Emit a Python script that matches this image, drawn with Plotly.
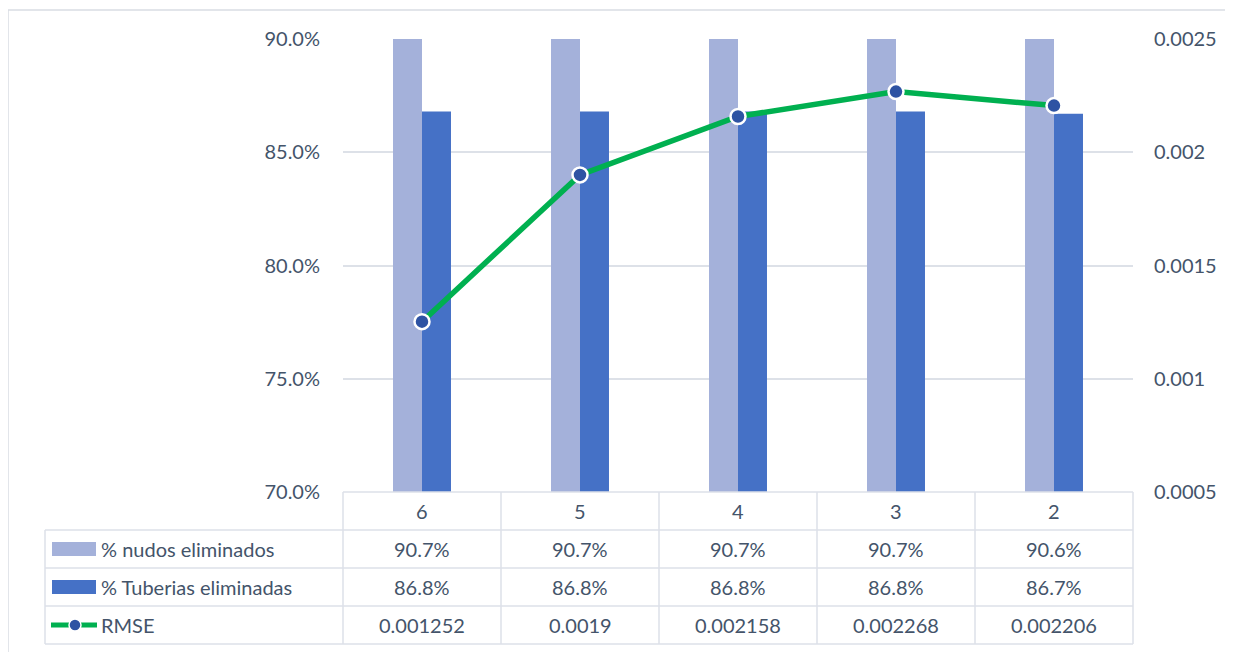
import plotly.graph_objects as go

categories = ["6", "5", "4", "3", "2"]
nudos = [0.907, 0.907, 0.907, 0.907, 0.906]
tuberias = [0.868, 0.868, 0.868, 0.868, 0.867]
rmse = [0.001252, 0.0019, 0.002158, 0.002268, 0.002206]
left_ticks = [0.70, 0.75, 0.80, 0.85, 0.90]
right_ticks = [0.0005, 0.001, 0.0015, 0.002, 0.0025]
right_ticktext = ["0.0005", "0.001", "0.0015", "0.002", "0.0025"]
series_names = ["% nudos eliminados", "% Tuberias eliminadas", "RMSE"]

# the page body adds an 8px offset; work in reference pixels and subtract it
OFF = 8
W, H = 1233 - OFF, 652 - OFF
L, T, PW, PH = 343 - OFF, 39 - OFF, 790, 453
R = W - L - PW
B = H - T - PH

TEXT = "#44546A"
GRID = "#DDE1E8"
FONT = "Lato"
FS = 20
C_LIGHT = "#A4B1DA"
C_DARK = "#4571C6"
GREEN = "#00B050"
MARK = "#2E53A3"


def px_x(p):
    # p in reference-image pixels
    return (p - OFF - L) / PW


def px_y(p):
    return (T + PH - (p - OFF)) / PH


fig = go.Figure()
fig.add_trace(go.Bar(x=categories, y=nudos, name=series_names[0],
                     marker=dict(color=C_LIGHT, line=dict(width=0))))
fig.add_trace(go.Bar(x=categories, y=tuberias, name=series_names[1],
                     marker=dict(color=C_DARK, line=dict(width=0))))
fig.add_trace(go.Scatter(x=categories, y=rmse, name=series_names[2], yaxis="y2",
                         mode="lines+markers",
                         line=dict(color=GREEN, width=5.5),
                         marker=dict(color=MARK, size=15,
                                     line=dict(color="white", width=2.5))))

shapes = []
annotations = []

# outer chart border (top and left edges visible in the frame)
BORDER = "#D9DDE3"
shapes.append(dict(type="line", xref="paper", yref="paper",
                   x0=px_x(8), x1=px_x(1233), y0=px_y(10), y1=px_y(10),
                   line=dict(color=BORDER, width=1.5), layer="below"))
shapes.append(dict(type="line", xref="paper", yref="paper",
                   x0=px_x(8), x1=px_x(8), y0=px_y(10), y1=px_y(652),
                   line=dict(color=BORDER, width=1.5), layer="below"))

# data table grid
row_lines = [492, 530, 568, 606, 644]
tbl_left = 45
for i, py in enumerate(row_lines):
    x0 = px_x(343) if i == 0 else px_x(tbl_left)
    shapes.append(dict(type="line", xref="paper", yref="paper",
                       x0=x0, x1=px_x(343 + PW), y0=px_y(py), y1=px_y(py),
                       line=dict(color=GRID, width=1.5)))
shapes.append(dict(type="line", xref="paper", yref="paper",
                   x0=px_x(tbl_left), x1=px_x(tbl_left),
                   y0=px_y(row_lines[1]), y1=px_y(row_lines[-1]),
                   line=dict(color=GRID, width=1.5)))
for k in range(len(categories) + 1):
    xp = 343 + k * PW / len(categories)
    shapes.append(dict(type="line", xref="paper", yref="paper",
                       x0=px_x(xp), x1=px_x(xp),
                       y0=px_y(row_lines[0]), y1=px_y(row_lines[-1]),
                       line=dict(color=GRID, width=1.5)))

row_centers = [511, 549, 587, 625]
rows = [
    categories,
    ["{:.1%}".format(v) for v in nudos],
    ["{:.1%}".format(v) for v in tuberias],
    [str(v) for v in rmse],
]
for r, vals in enumerate(rows):
    for i, txt in enumerate(vals):
        annotations.append(dict(x=i, xref="x", y=px_y(row_centers[r]), yref="paper",
                                text=txt, showarrow=False,
                                font=dict(family=FONT, size=FS, color=TEXT),
                                xanchor="center", yanchor="middle"))

# legend keys in table
for r, col in enumerate([C_LIGHT, C_DARK], start=1):
    yc = row_centers[r]
    shapes.append(dict(type="rect", xref="paper", yref="paper",
                       x0=px_x(52), x1=px_x(96), y0=px_y(yc + 7), y1=px_y(yc - 7),
                       line=dict(width=0), fillcolor=col))
yc = row_centers[3]
shapes.append(dict(type="line", xref="paper", yref="paper",
                   x0=px_x(51), x1=px_x(97), y0=px_y(yc), y1=px_y(yc),
                   line=dict(color=GREEN, width=5)))
shapes.append(dict(type="circle", xref="paper", yref="paper",
                   x0=px_x(69), x1=px_x(81), y0=px_y(yc + 6), y1=px_y(yc - 6),
                   line=dict(color="white", width=1.5), fillcolor=MARK))
for r, name in enumerate(series_names, start=1):
    annotations.append(dict(x=px_x(99), xref="paper", y=px_y(row_centers[r]), yref="paper",
                            text=name, showarrow=False,
                            font=dict(family=FONT, size=FS, color=TEXT),
                            xanchor="left", yanchor="middle"))

fig.update_layout(
    width=W, height=H,
    margin=dict(l=L, r=R, t=T, b=B, pad=0),
    paper_bgcolor="white", plot_bgcolor="white",
    barmode="group", bargap=0.633, bargroupgap=0,
    showlegend=False,
    font=dict(family=FONT, size=FS, color=TEXT),
    xaxis=dict(type="category", categoryorder="array", categoryarray=categories,
               range=[-0.5, 4.5], showticklabels=False, showgrid=False,
               zeroline=False, showline=False, ticks=""),
    yaxis=dict(range=[0.70, 0.90], tickvals=left_ticks, tickformat=".1%",
               showgrid=True, gridcolor=GRID, gridwidth=1.5, zeroline=False,
               showline=False, ticks="", ticklabelstandoff=22),
    yaxis2=dict(range=[0.0005, 0.0025], tickvals=right_ticks, ticktext=right_ticktext,
                overlaying="y", side="right", showgrid=False, zeroline=False,
                showline=False, ticks="", ticklabelstandoff=20),
    shapes=shapes,
    annotations=annotations,
)

fig.write_html("out.html")
